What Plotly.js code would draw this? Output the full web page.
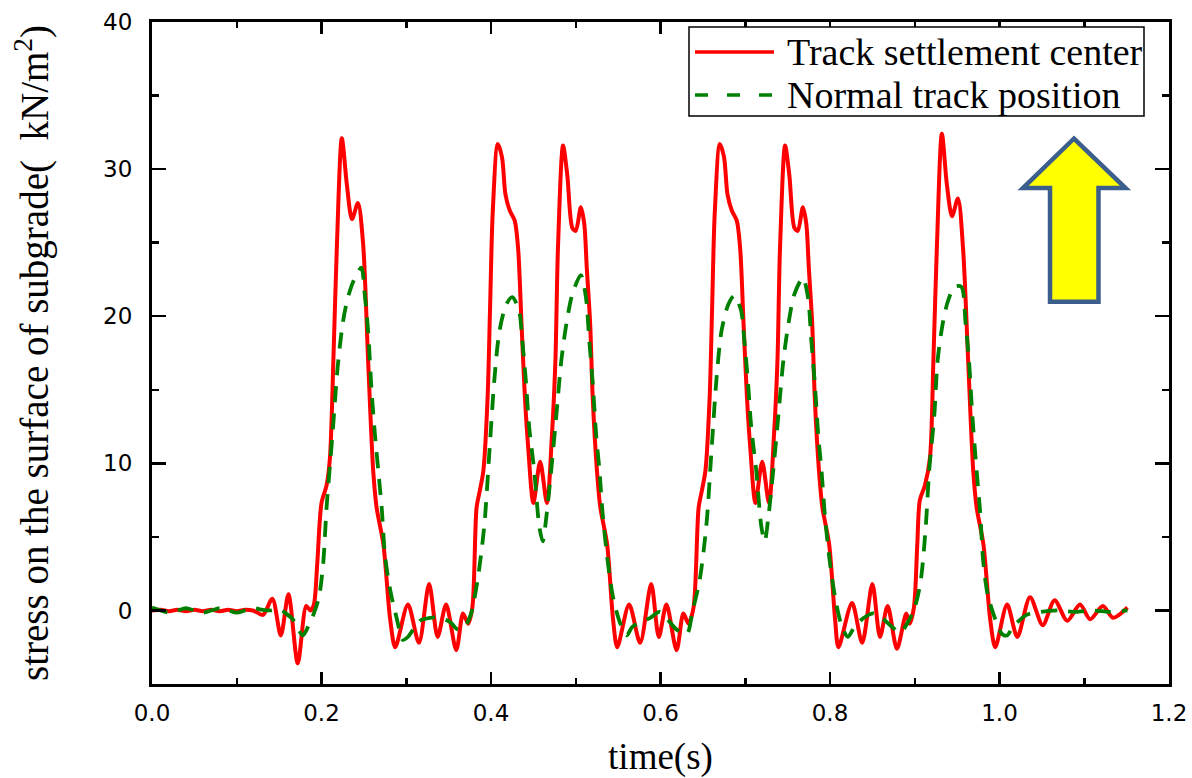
<!DOCTYPE html>
<html>
<head>
<meta charset="utf-8">
<script src="https://cdn.plot.ly/plotly-3.0.1.min.js"></script>
<style>
  html, body { margin: 0; padding: 0; background: #ffffff; }
  #chart { width: 1192px; height: 778px; }
</style>
</head>
<body>
<div id="chart"></div>
<script>
// ---- data ----
const seriesNames = ["Track settlement center", "Normal track position"];

const timeSettlement = [
  0.000, 0.010, 0.020, 0.030, 0.040, 0.050, 0.060, 0.070, 0.080, 0.090, 0.100, 0.110, 0.120,
  0.131, 0.142, 0.152, 0.161, 0.172, 0.182, 0.187, 0.191, 0.195, 0.200, 0.206, 0.210, 0.214,
  0.218, 0.224, 0.230, 0.236, 0.243, 0.249, 0.255, 0.261, 0.265, 0.273, 0.281, 0.287,
  0.302, 0.315, 0.327, 0.337, 0.347, 0.359, 0.367, 0.373, 0.378,
  0.383, 0.387, 0.391, 0.396, 0.399, 0.402, 0.408, 0.413, 0.417, 0.422, 0.428, 0.432, 0.436,
  0.440, 0.444, 0.450, 0.458, 0.466, 0.472, 0.476, 0.479, 0.485, 0.490, 0.496, 0.500, 0.506,
  0.510, 0.513, 0.517, 0.520, 0.525, 0.529, 0.537, 0.544, 0.549,
  0.563, 0.576, 0.589, 0.598, 0.607, 0.619, 0.627, 0.633, 0.639,
  0.645, 0.649, 0.653, 0.658, 0.661, 0.664, 0.670, 0.675, 0.679, 0.684, 0.690, 0.694, 0.698,
  0.702, 0.706, 0.712, 0.720, 0.728, 0.734, 0.738, 0.741, 0.747, 0.752, 0.758, 0.762, 0.768,
  0.772, 0.775, 0.779, 0.782, 0.787, 0.791, 0.799, 0.806, 0.810,
  0.826, 0.838, 0.850, 0.859, 0.868, 0.879, 0.890, 0.894, 0.899,
  0.903, 0.906, 0.912, 0.918, 0.922, 0.926, 0.932, 0.938, 0.944, 0.951, 0.957, 0.963, 0.969,
  0.973, 0.981, 0.989, 0.995,
  1.009, 1.021, 1.036, 1.051, 1.065, 1.080, 1.095, 1.107, 1.122, 1.134, 1.151
];
const stressSettlement = [
  0.00, 0.05, -0.05, 0.05, -0.05, 0.05, -0.05, 0.05, -0.05, 0.05, -0.05, 0.05, -0.02,
  -0.3, 0.8, -1.7, 1.1, -3.6, 0.3, 0.0, 0.4, 3.2, 7.3, 8.5, 10.4, 17.0,
  24.5, 32.1, 28.9, 26.6, 27.7, 25.0, 17.0, 9.5, 7.0, 4.5, -0.6, -2.5,
  0.4, -2.2, 1.8, -1.8, 0.4, -2.7, -0.2, -0.9, 0.2,
  7.0, 8.2, 9.5, 14.5, 20.8, 27.0, 31.7, 30.8, 28.3, 27.2, 26.5, 24.6, 19.5,
  14.5, 11.0, 7.3, 10.1, 7.3, 12.0, 17.0, 24.6, 31.6, 29.6, 26.0, 25.8, 27.4,
  26.3, 23.3, 19.5, 14.5, 9.5, 7.0, 4.5, -0.6, -2.5,
  0.4, -2.2, 1.8, -1.8, 0.4, -2.7, -0.2, -0.9, 0.2,
  7.0, 8.2, 9.5, 14.5, 20.8, 27.0, 31.7, 30.8, 28.3, 27.2, 26.5, 24.6, 19.5,
  14.5, 11.0, 7.3, 10.1, 7.3, 12.0, 17.0, 24.6, 31.6, 29.6, 26.0, 25.8, 27.4,
  26.3, 23.3, 19.5, 14.5, 9.5, 7.0, 4.5, -0.6, -2.5,
  0.5, -2.2, 1.8, -1.8, 0.3, -2.6, -0.2, -0.9, 0.2,
  4.5, 7.5, 8.5, 10.4, 17.0, 24.5, 32.4, 28.9, 26.8, 28.0, 24.6, 17.0, 9.5,
  7.0, 4.5, -0.6, -2.5,
  0.4, -1.8, 0.9, -1.0, 0.7, -0.7, 0.4, -0.6, 0.3, -0.5, 0.2
];

const timeNormal = [
  0.000, 0.010, 0.020, 0.030, 0.040, 0.050, 0.060, 0.070, 0.080, 0.090, 0.100, 0.110, 0.120,
  0.130, 0.140, 0.150, 0.158, 0.166, 0.172, 0.178, 0.185, 0.191, 0.197, 0.202, 0.206, 0.213,
  0.219, 0.225, 0.230, 0.237, 0.247, 0.251, 0.255, 0.259, 0.263, 0.267, 0.271, 0.275, 0.281,
  0.289, 0.296, 0.302, 0.316, 0.328, 0.340, 0.352, 0.361, 0.369, 0.376,
  0.384, 0.392, 0.398, 0.404, 0.410, 0.418, 0.425, 0.433, 0.437, 0.441, 0.445, 0.451, 0.457,
  0.461, 0.465, 0.471, 0.477, 0.483, 0.489, 0.496, 0.506, 0.512, 0.516, 0.520, 0.524, 0.528,
  0.532, 0.538, 0.544, 0.552, 0.560, 0.567, 0.588, 0.599, 0.619, 0.631, 0.638,
  0.646, 0.654, 0.660, 0.666, 0.672, 0.680, 0.687, 0.695, 0.699, 0.703, 0.707, 0.713, 0.719,
  0.723, 0.727, 0.733, 0.739, 0.745, 0.751, 0.758, 0.768, 0.774, 0.778, 0.782, 0.786, 0.790,
  0.794, 0.800, 0.806, 0.813, 0.821, 0.829, 0.840, 0.851, 0.861, 0.873, 0.883, 0.891, 0.900,
  0.907, 0.913, 0.917, 0.923, 0.927, 0.933, 0.939, 0.947, 0.955, 0.960, 0.964, 0.968, 0.973,
  0.977, 0.981, 0.986, 0.995, 1.003, 1.009, 1.016, 1.032, 1.048, 1.070, 1.090, 1.110, 1.130, 1.151
];
const stressNormal = [
  0.20, 0.00, -0.15, 0.00, 0.15, 0.00, -0.15, 0.00, 0.15, 0.00, -0.15, 0.00, 0.15,
  0.05, 0.00, 0.10, -0.2, -0.6, -1.2, -1.7, -1.0, -0.2, 0.9, 3.2, 7.0, 12.0,
  16.5, 19.5, 21.0, 22.3, 23.3, 21.5, 19.0, 15.0, 12.0, 9.5, 7.0, 3.7, 1.4,
  -0.6, -2.0, -1.8, -0.7, -0.5, -0.5, -0.8, -1.3, -1.1, -0.3,
  2.0, 5.7, 10.7, 15.7, 19.0, 20.8, 21.3, 20.4, 18.3, 15.7, 12.5, 9.5, 5.7,
  4.7, 6.2, 9.5, 13.2, 17.0, 19.5, 21.5, 22.8, 21.3, 18.3, 15.5, 12.0, 9.5,
  6.4, 3.2, 0.9, -0.8, -1.7, -1.1, -0.5, -0.1, -1.3, -1.6, 0.0,
  2.0, 5.7, 10.7, 15.7, 19.0, 20.8, 21.4, 20.4, 18.3, 15.7, 12.5, 9.5, 5.7,
  4.7, 6.2, 9.5, 13.2, 17.0, 19.5, 21.5, 22.6, 21.3, 18.3, 15.5, 12.0, 9.5,
  6.4, 3.2, 0.9, -0.9, -1.8, -1.1, -0.5, -0.2, -0.5, -1.1, -1.5, -0.9, 0.2,
  2.0, 5.7, 9.5, 13.2, 17.0, 19.5, 21.0, 22.0, 22.0, 19.5, 17.0, 13.2, 9.5,
  6.8, 3.2, 1.1, -0.6, -1.6, -1.7, -1.1, -0.3, -0.1, 0.0, -0.1, 0.0, -0.1, 0.0
];

const xTitle = "time(s)";
const yTitle = "stress on the surface of subgrade(\u00a0\u00a0kN/m<sup>2</sup>)";

// ---- traces ----
const traces = [
  {
    x: timeSettlement, y: stressSettlement, name: seriesNames[0],
    type: "scatter", mode: "lines",
    line: { color: "#FF0000", width: 4, shape: "spline", smoothing: 0.8 }
  },
  {
    x: timeNormal, y: stressNormal, name: seriesNames[1],
    type: "scatter", mode: "lines",
    line: { color: "#008000", width: 3.8, dash: "16px,11px", shape: "spline", smoothing: 0.8 }
  }
];

// plot-area geometry helpers for the hand-made legend (paper coords)
const PL = 152, PR = 1169, PT = 22, PB = 684;
const px = v => (v - PL) / (PR - PL);
const py = v => (PB - v) / (PB - PT);

const serif = "Liberation Serif, Times New Roman, serif";

const layout = {
  width: 1192, height: 778,
  margin: { l: PL, r: 1192 - PR, t: PT, b: 778 - PB, pad: 0 },
  paper_bgcolor: "#ffffff", plot_bgcolor: "#ffffff",
  showlegend: false,
  xaxis: {
    range: [0, 1.2], tick0: 0, dtick: 0.2, tickformat: ".1f",
    ticks: "inside", ticklen: 12, tickwidth: 2.5, tickcolor: "#000",
    minor: { dtick: 0.1, ticks: "inside", ticklen: 6, tickwidth: 2.5, tickcolor: "#000", showgrid: false },
    showline: true, linewidth: 3, linecolor: "#000", mirror: "ticks",
    showgrid: false, zeroline: false,
    tickfont: { family: "DejaVu Sans", size: 23, color: "#000" },
    ticklabelstandoff: 6,
    title: { text: xTitle, font: { family: serif, size: 37, color: "#000" }, standoff: 30 }
  },
  yaxis: {
    range: [-5, 40], tick0: 0, dtick: 10,
    ticks: "inside", ticklen: 14, tickwidth: 2.5, tickcolor: "#000",
    minor: { dtick: 5, ticks: "inside", ticklen: 7, tickwidth: 2.5, tickcolor: "#000", showgrid: false },
    showline: true, linewidth: 3, linecolor: "#000", mirror: "ticks",
    showgrid: false, zeroline: false,
    tickfont: { family: "DejaVu Sans", size: 23, color: "#000" },
    ticklabelstandoff: 12,
    title: { text: yTitle, font: { family: serif, size: 39, color: "#000" }, standoff: 43 }
  },
  shapes: [
    // legend frame
    { type: "rect", xref: "paper", yref: "paper", x0: px(689), x1: px(1144), y0: py(116), y1: py(27),
      line: { color: "#000", width: 1.5 }, fillcolor: "rgba(255,255,255,1)", layer: "above" },
    // legend samples
    { type: "line", xref: "paper", yref: "paper", x0: px(695), x1: px(774), y0: py(52), y1: py(52),
      line: { color: "#FF0000", width: 3.5 } },
    { type: "line", xref: "paper", yref: "paper", x0: px(695), x1: px(774), y0: py(95), y1: py(95),
      line: { color: "#008000", width: 3.5, dash: "13px,19px" } },
    // yellow block arrow
    { type: "path", xref: "x", yref: "y",
      path: "M1.0879,32.08 L1.1487,28.71 L1.1168,28.71 L1.1168,20.98 L1.0596,20.98 L1.0596,28.71 L1.0277,28.71 Z",
      fillcolor: "#FFFF00", line: { color: "#3C5E8C", width: 4.5 }, layer: "above" }
  ],
  annotations: [
    { xref: "paper", yref: "paper", x: px(785), y: py(52), xanchor: "left", yanchor: "middle",
      text: seriesNames[0], showarrow: false, font: { family: serif, size: 38, color: "#000" } },
    { xref: "paper", yref: "paper", x: px(785), y: py(95), xanchor: "left", yanchor: "middle",
      text: seriesNames[1], showarrow: false, font: { family: serif, size: 38, color: "#000" } }
  ]
};

Plotly.newPlot("chart", traces, layout, { staticPlot: true, displayModeBar: false });
</script>
</body>
</html>
